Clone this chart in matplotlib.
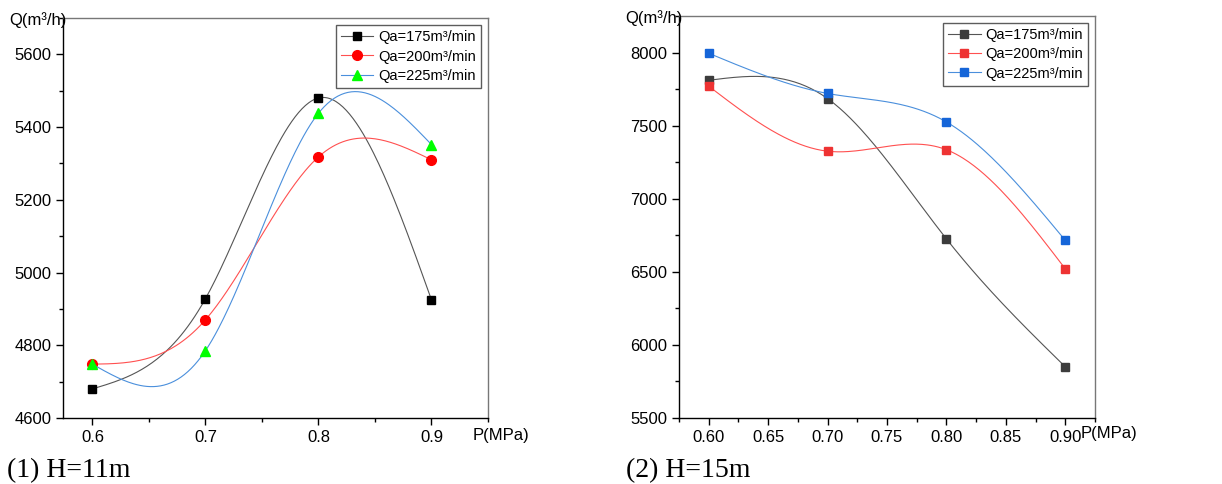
import numpy as np
import matplotlib
matplotlib.use("Agg")
import matplotlib.pyplot as plt
from matplotlib.ticker import MultipleLocator, FormatStrFormatter

plt.rcParams['font.family'] = ['Liberation Sans', 'DejaVu Sans']

p = [0.6, 0.7, 0.8, 0.9]
labels = ["Qa=175m³/min", "Qa=200m³/min", "Qa=225m³/min"]

# H = 11 m
q11_175 = [4680, 4928, 5480, 4925]
q11_200 = [4748, 4870, 5318, 5310]
q11_225 = [4748, 4785, 5438, 5352]

# H = 15 m
q15_175 = [7810, 7685, 6725, 5850]
q15_200 = [7770, 7325, 7335, 6520]
q15_225 = [7995, 7720, 7525, 6715]


def spline(x, y, n=200):
    # natural cubic spline through the points, for the smooth line only
    x = np.asarray(x, float)
    y = np.asarray(y, float)
    k = len(x)
    h = np.diff(x)
    A = np.zeros((k, k))
    r = np.zeros(k)
    A[0, 0] = A[-1, -1] = 1
    for i in range(1, k - 1):
        A[i, i - 1] = h[i - 1]
        A[i, i] = 2 * (h[i - 1] + h[i])
        A[i, i + 1] = h[i]
        r[i] = 6 * ((y[i + 1] - y[i]) / h[i] - (y[i] - y[i - 1]) / h[i - 1])
    M = np.linalg.solve(A, r)
    xs = np.linspace(x[0], x[-1], n)
    idx = np.clip(np.searchsorted(x, xs) - 1, 0, k - 2)
    x0, x1 = x[idx], x[idx + 1]
    hh = x1 - x0
    a = (x1 - xs) / hh
    b = (xs - x0) / hh
    ys = a * y[idx] + b * y[idx + 1] + ((a**3 - a) * M[idx] + (b**3 - b) * M[idx + 1]) * hh**2 / 6
    return xs, ys


fig = plt.figure(figsize=(12.22, 4.84), dpi=100)
ax1 = fig.add_axes([0.0516, 0.1364, 0.3477, 0.8264])
ax2 = fig.add_axes([0.5556, 0.1364, 0.3405, 0.8306])

# left panel
series1 = [(q11_175, '#000000', '#555555', 's', 6),
           (q11_200, '#ff0000', '#ff5050', 'o', 7),
           (q11_225, '#00ff00', '#4a8fdc', '^', 7.5)]
for (q, mc, lc, m, ms), lab in zip(series1, labels):
    xs, ys = spline(p, q)
    ax1.plot(xs, ys, color=lc, lw=0.8)
    ax1.plot(p, q, ls='none', marker=m, ms=ms, color=mc)
    ax1.plot([], [], color=lc, lw=0.8, marker=m, ms=ms, mfc=mc, mec=mc, label=lab)

ax1.set_xlim(0.574, 0.95)
ax1.set_ylim(4600, 5700)
ax1.set_xticks(p)
ax1.xaxis.set_major_formatter(FormatStrFormatter('%.1f'))
ax1.xaxis.set_minor_locator(MultipleLocator(0.05))
ax1.yaxis.set_major_locator(MultipleLocator(200))
ax1.yaxis.set_minor_locator(MultipleLocator(100))

# right panel
series2 = [(q15_175, '#3c3c3c', '#555555'),
           (q15_200, '#ee3333', '#ff5050'),
           (q15_225, '#1565d8', '#4a8fdc')]
for (q, mc, lc), lab in zip(series2, labels):
    xs, ys = spline(p, q)
    ax2.plot(xs, ys, color=lc, lw=0.8)
    ax2.plot(p, q, ls='none', marker='s', ms=5.5, color=mc)
    ax2.plot([], [], color=lc, lw=0.8, marker='s', ms=5.5, mfc=mc, mec=mc, label=lab)

ax2.set_xlim(0.575, 0.925)
ax2.set_ylim(5500, 8250)
ax2.xaxis.set_major_locator(MultipleLocator(0.05))
ax2.xaxis.set_major_formatter(FormatStrFormatter('%.2f'))
ax2.xaxis.set_minor_locator(MultipleLocator(0.025))
ax2.yaxis.set_major_locator(MultipleLocator(500))
ax2.yaxis.set_minor_locator(MultipleLocator(250))

for ax in (ax1, ax2):
    ax.tick_params(which='major', direction='out', length=5, width=1, labelsize=12)
    ax.tick_params(which='minor', direction='out', length=3, width=1)
    for s in ax.spines.values():
        s.set_linewidth(1)
    for s in ('top', 'right'):
        ax.spines[s].set_color('#777777')
    leg = ax.legend(loc='upper right', frameon=True, fancybox=False, fontsize=10.5,
                    edgecolor='#333333', handlelength=2.2, handletextpad=0.3,
                    borderpad=0.35, labelspacing=0.35, borderaxespad=0.5)
    leg.get_frame().set_linewidth(1)

fig.text(0.0074, 0.958, "Q(m³/h)", fontsize=12, va='center', ha='left')
fig.text(0.512, 0.962, "Q(m³/h)", fontsize=12, va='center', ha='left')
fig.text(0.387, 0.100, "P(MPa)", fontsize=12, va='center', ha='left')
fig.text(0.884, 0.104, "P(MPa)", fontsize=12, va='center', ha='left')

fig.text(0.006, 0.002, "(1) H=11m", fontsize=20, family='Liberation Serif', ha='left', va='bottom')
fig.text(0.512, 0.002, "(2) H=15m", fontsize=20, family='Liberation Serif', ha='left', va='bottom')

fig.savefig("out.png", dpi=100)
